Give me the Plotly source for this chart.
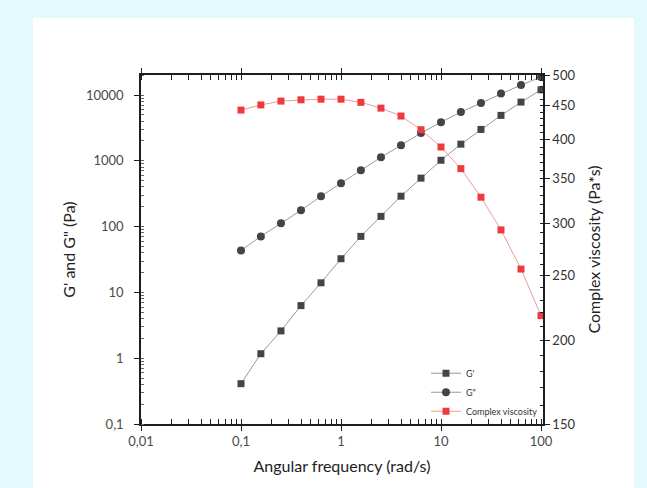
import plotly.graph_objects as go

# Frequency sweep: 5 points per decade, 0.1 to 100 rad/s
freq = [0.1, 0.158, 0.251, 0.398, 0.631, 1.0, 1.58, 2.51, 3.98, 6.31,
        10.0, 15.8, 25.1, 39.8, 63.1, 100.0]

# Storage modulus G' (Pa)
g_storage = [0.41, 1.17, 2.6, 6.3, 14.0, 32.5, 71.0, 143, 290, 545,
             1020, 1790, 3000, 4900, 7800, 12000]

# Loss modulus G'' (Pa)
g_loss = [43.5, 71.0, 112, 177, 290, 457, 720, 1130, 1730, 2640,
          3870, 5500, 7550, 10500, 14200, 18700]

# Complex viscosity (Pa*s)
eta_complex = [443, 451, 457, 459, 460, 460, 455, 446, 434, 414,
               390, 362, 328, 293, 256, 218]

# Tick labels (comma decimal separator)
x_tickvals = [0.01, 0.1, 1, 10, 100]
x_ticktext = ["0,01", "0,1", "1", "10", "100"]
y_tickvals = [0.1, 1, 10, 100, 1000, 10000]
y_ticktext = ["0,1", "1", "10", "100", "1000", "10000"]
y2_tickvals = [150, 200, 250, 300, 350, 400, 450, 500]

FONT = "Lato, 'Open Sans', sans-serif"
AXIS_COLOR = "#1e1e1e"
TICK_FONT = dict(family=FONT, size=13, color="#4a4a4a")
TITLE_FONT = dict(family=FONT, size=16, color="#222222")

fig = go.Figure()

fig.add_trace(go.Scatter(
    x=freq, y=g_storage, name="G'", mode="lines+markers",
    line=dict(color="#9a9a9a", width=1),
    marker=dict(symbol="square", size=7, color="#444444"),
))
fig.add_trace(go.Scatter(
    x=freq, y=g_loss, name='G"', mode="lines+markers",
    line=dict(color="#9a9a9a", width=1),
    marker=dict(symbol="circle", size=8, color="#444444"),
))
fig.add_trace(go.Scatter(
    x=freq, y=eta_complex, name="Complex viscosity", mode="lines+markers",
    yaxis="y2",
    line=dict(color="#f29a9a", width=1),
    marker=dict(symbol="square", size=7, color="#ee3a3f"),
))

# White card behind the chart on the light cyan page
fig.add_shape(
    type="rect", xref="paper", yref="paper",
    x0=-0.2687, x1=1.2264, y0=-0.19, y1=1.1633,
    fillcolor="white", line=dict(width=0), layer="below",
)

fig.update_layout(
    width=647, height=488,
    margin=dict(l=141, r=104, t=75, b=64),
    paper_bgcolor="#e4f9fc",
    plot_bgcolor="rgba(0,0,0,0)",
    font=dict(family=FONT),
    showlegend=True,
    legend=dict(
        x=1.0, y=-0.005, xanchor="right", yanchor="bottom",
        bgcolor="rgba(0,0,0,0)", borderwidth=0,
        font=dict(family=FONT, size=9, color="#333333"),
        itemwidth=30, tracegroupgap=0,
    ),
    xaxis=dict(
        type="log", range=[-2, 2.02],
        tickvals=x_tickvals, ticktext=x_ticktext,
        showgrid=False, zeroline=False,
        showline=True, linecolor=AXIS_COLOR, linewidth=1.5,
        mirror="allticks",
        ticks="outside", ticklen=5, tickwidth=1, tickcolor=AXIS_COLOR,
        minor=dict(ticks="inside", ticklen=3, tickwidth=1,
                   tickcolor=AXIS_COLOR, dtick="D1", showgrid=False),
        tickfont=TICK_FONT,
        title=dict(text="Angular frequency (rad/s)", font=TITLE_FONT, standoff=12),
    ),
    yaxis=dict(
        type="log", range=[-1, 4.304],
        tickvals=y_tickvals, ticktext=y_ticktext,
        showgrid=False, zeroline=False,
        showline=True, linecolor=AXIS_COLOR, linewidth=1.5,
        ticks="outside", ticklen=5, tickwidth=1, tickcolor=AXIS_COLOR,
        ticklabelstandoff=8,
        minor=dict(ticks="inside", ticklen=3, tickwidth=1,
                   tickcolor="#666666", dtick="D1", showgrid=False),
        tickfont=TICK_FONT,
        title=dict(text="G' and G\" (Pa)", font=TITLE_FONT, standoff=6),
    ),
    yaxis2=dict(
        type="log", range=[2.1761, 2.69897],
        overlaying="y", side="right",
        tickvals=y2_tickvals, ticktext=[str(v) for v in y2_tickvals],
        showgrid=False, zeroline=False,
        showline=True, linecolor=AXIS_COLOR, linewidth=1.5,
        ticks="outside", ticklen=5, tickwidth=1, tickcolor=AXIS_COLOR,
        minor=dict(ticks="inside", ticklen=3, tickwidth=1,
                   tickcolor=AXIS_COLOR, dtick="L10", showgrid=False),
        tickfont=dict(family=FONT, size=13, color="#333333"),
        title=dict(text="Complex viscosity (Pa*s)", font=TITLE_FONT, standoff=14),
    ),
)

fig.write_html("out.html")
